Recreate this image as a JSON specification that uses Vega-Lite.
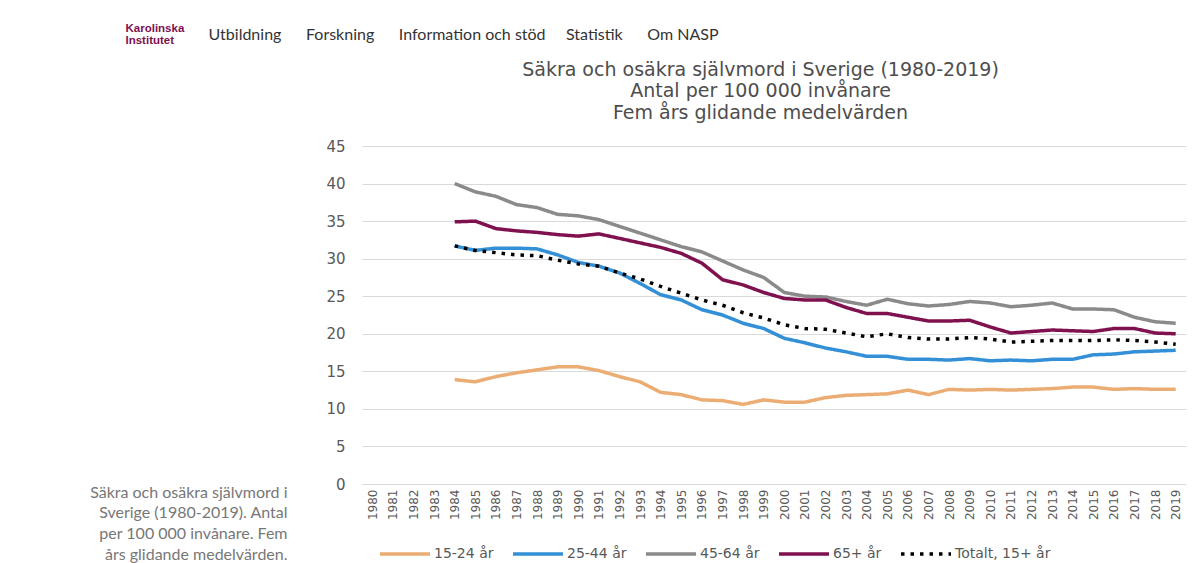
{
  "$schema": "https://vega.github.io/schema/vega-lite/v6.json",
  "width": 824,
  "height": 338,
  "autosize": {"type": "none"},
  "padding": {"left": 362, "top": 146, "right": 12, "bottom": 79},
  "background": "#ffffff",
  "config": {"view": {"stroke": null}},
  "datasets": {
    "rows": [
      {"year":1984,"group":"15-24 år","value":13.9},{"year":1985,"group":"15-24 år","value":13.6},{"year":1986,"group":"15-24 år","value":14.3},{"year":1987,"group":"15-24 år","value":14.8},{"year":1988,"group":"15-24 år","value":15.2},{"year":1989,"group":"15-24 år","value":15.6},{"year":1990,"group":"15-24 år","value":15.6},{"year":1991,"group":"15-24 år","value":15.1},{"year":1992,"group":"15-24 år","value":14.3},{"year":1993,"group":"15-24 år","value":13.6},{"year":1994,"group":"15-24 år","value":12.2},{"year":1995,"group":"15-24 år","value":11.9},{"year":1996,"group":"15-24 år","value":11.2},{"year":1997,"group":"15-24 år","value":11.1},{"year":1998,"group":"15-24 år","value":10.6},{"year":1999,"group":"15-24 år","value":11.2},{"year":2000,"group":"15-24 år","value":10.9},{"year":2001,"group":"15-24 år","value":10.9},{"year":2002,"group":"15-24 år","value":11.5},{"year":2003,"group":"15-24 år","value":11.8},{"year":2004,"group":"15-24 år","value":11.9},{"year":2005,"group":"15-24 år","value":12.0},{"year":2006,"group":"15-24 år","value":12.5},{"year":2007,"group":"15-24 år","value":11.9},{"year":2008,"group":"15-24 år","value":12.6},{"year":2009,"group":"15-24 år","value":12.5},{"year":2010,"group":"15-24 år","value":12.6},{"year":2011,"group":"15-24 år","value":12.5},{"year":2012,"group":"15-24 år","value":12.6},{"year":2013,"group":"15-24 år","value":12.7},{"year":2014,"group":"15-24 år","value":12.9},{"year":2015,"group":"15-24 år","value":12.9},{"year":2016,"group":"15-24 år","value":12.6},{"year":2017,"group":"15-24 år","value":12.7},{"year":2018,"group":"15-24 år","value":12.6},{"year":2019,"group":"15-24 år","value":12.6},
      {"year":1984,"group":"25-44 år","value":31.7},{"year":1985,"group":"25-44 år","value":31.1},{"year":1986,"group":"25-44 år","value":31.4},{"year":1987,"group":"25-44 år","value":31.4},{"year":1988,"group":"25-44 år","value":31.3},{"year":1989,"group":"25-44 år","value":30.5},{"year":1990,"group":"25-44 år","value":29.5},{"year":1991,"group":"25-44 år","value":29.0},{"year":1992,"group":"25-44 år","value":28.1},{"year":1993,"group":"25-44 år","value":26.7},{"year":1994,"group":"25-44 år","value":25.2},{"year":1995,"group":"25-44 år","value":24.5},{"year":1996,"group":"25-44 år","value":23.2},{"year":1997,"group":"25-44 år","value":22.5},{"year":1998,"group":"25-44 år","value":21.4},{"year":1999,"group":"25-44 år","value":20.7},{"year":2000,"group":"25-44 år","value":19.4},{"year":2001,"group":"25-44 år","value":18.8},{"year":2002,"group":"25-44 år","value":18.1},{"year":2003,"group":"25-44 år","value":17.6},{"year":2004,"group":"25-44 år","value":17.0},{"year":2005,"group":"25-44 år","value":17.0},{"year":2006,"group":"25-44 år","value":16.6},{"year":2007,"group":"25-44 år","value":16.6},{"year":2008,"group":"25-44 år","value":16.5},{"year":2009,"group":"25-44 år","value":16.7},{"year":2010,"group":"25-44 år","value":16.4},{"year":2011,"group":"25-44 år","value":16.5},{"year":2012,"group":"25-44 år","value":16.4},{"year":2013,"group":"25-44 år","value":16.6},{"year":2014,"group":"25-44 år","value":16.6},{"year":2015,"group":"25-44 år","value":17.2},{"year":2016,"group":"25-44 år","value":17.3},{"year":2017,"group":"25-44 år","value":17.6},{"year":2018,"group":"25-44 år","value":17.7},{"year":2019,"group":"25-44 år","value":17.8},
      {"year":1984,"group":"45-64 år","value":40.0},{"year":1985,"group":"45-64 år","value":38.9},{"year":1986,"group":"45-64 år","value":38.3},{"year":1987,"group":"45-64 år","value":37.2},{"year":1988,"group":"45-64 år","value":36.8},{"year":1989,"group":"45-64 år","value":35.9},{"year":1990,"group":"45-64 år","value":35.7},{"year":1991,"group":"45-64 år","value":35.2},{"year":1992,"group":"45-64 år","value":34.3},{"year":1993,"group":"45-64 år","value":33.4},{"year":1994,"group":"45-64 år","value":32.5},{"year":1995,"group":"45-64 år","value":31.6},{"year":1996,"group":"45-64 år","value":30.9},{"year":1997,"group":"45-64 år","value":29.7},{"year":1998,"group":"45-64 år","value":28.5},{"year":1999,"group":"45-64 år","value":27.5},{"year":2000,"group":"45-64 år","value":25.5},{"year":2001,"group":"45-64 år","value":25.0},{"year":2002,"group":"45-64 år","value":24.9},{"year":2003,"group":"45-64 år","value":24.3},{"year":2004,"group":"45-64 år","value":23.8},{"year":2005,"group":"45-64 år","value":24.6},{"year":2006,"group":"45-64 år","value":24.0},{"year":2007,"group":"45-64 år","value":23.7},{"year":2008,"group":"45-64 år","value":23.9},{"year":2009,"group":"45-64 år","value":24.3},{"year":2010,"group":"45-64 år","value":24.1},{"year":2011,"group":"45-64 år","value":23.6},{"year":2012,"group":"45-64 år","value":23.8},{"year":2013,"group":"45-64 år","value":24.1},{"year":2014,"group":"45-64 år","value":23.3},{"year":2015,"group":"45-64 år","value":23.3},{"year":2016,"group":"45-64 år","value":23.2},{"year":2017,"group":"45-64 år","value":22.2},{"year":2018,"group":"45-64 år","value":21.6},{"year":2019,"group":"45-64 år","value":21.4},
      {"year":1984,"group":"65+ år","value":34.9},{"year":1985,"group":"65+ år","value":35.0},{"year":1986,"group":"65+ år","value":34.0},{"year":1987,"group":"65+ år","value":33.7},{"year":1988,"group":"65+ år","value":33.5},{"year":1989,"group":"65+ år","value":33.2},{"year":1990,"group":"65+ år","value":33.0},{"year":1991,"group":"65+ år","value":33.3},{"year":1992,"group":"65+ år","value":32.7},{"year":1993,"group":"65+ år","value":32.1},{"year":1994,"group":"65+ år","value":31.5},{"year":1995,"group":"65+ år","value":30.7},{"year":1996,"group":"65+ år","value":29.4},{"year":1997,"group":"65+ år","value":27.2},{"year":1998,"group":"65+ år","value":26.5},{"year":1999,"group":"65+ år","value":25.5},{"year":2000,"group":"65+ år","value":24.7},{"year":2001,"group":"65+ år","value":24.5},{"year":2002,"group":"65+ år","value":24.5},{"year":2003,"group":"65+ år","value":23.5},{"year":2004,"group":"65+ år","value":22.7},{"year":2005,"group":"65+ år","value":22.7},{"year":2006,"group":"65+ år","value":22.2},{"year":2007,"group":"65+ år","value":21.7},{"year":2008,"group":"65+ år","value":21.7},{"year":2009,"group":"65+ år","value":21.8},{"year":2010,"group":"65+ år","value":20.9},{"year":2011,"group":"65+ år","value":20.1},{"year":2012,"group":"65+ år","value":20.3},{"year":2013,"group":"65+ år","value":20.5},{"year":2014,"group":"65+ år","value":20.4},{"year":2015,"group":"65+ år","value":20.3},{"year":2016,"group":"65+ år","value":20.7},{"year":2017,"group":"65+ år","value":20.7},{"year":2018,"group":"65+ år","value":20.1},{"year":2019,"group":"65+ år","value":20.0},
      {"year":1984,"group":"Totalt, 15+ år","value":31.7},{"year":1985,"group":"Totalt, 15+ år","value":31.1},{"year":1986,"group":"Totalt, 15+ år","value":30.8},{"year":1987,"group":"Totalt, 15+ år","value":30.5},{"year":1988,"group":"Totalt, 15+ år","value":30.4},{"year":1989,"group":"Totalt, 15+ år","value":29.8},{"year":1990,"group":"Totalt, 15+ år","value":29.3},{"year":1991,"group":"Totalt, 15+ år","value":29.0},{"year":1992,"group":"Totalt, 15+ år","value":28.1},{"year":1993,"group":"Totalt, 15+ år","value":27.3},{"year":1994,"group":"Totalt, 15+ år","value":26.3},{"year":1995,"group":"Totalt, 15+ år","value":25.4},{"year":1996,"group":"Totalt, 15+ år","value":24.5},{"year":1997,"group":"Totalt, 15+ år","value":23.8},{"year":1998,"group":"Totalt, 15+ år","value":22.8},{"year":1999,"group":"Totalt, 15+ år","value":22.1},{"year":2000,"group":"Totalt, 15+ år","value":21.2},{"year":2001,"group":"Totalt, 15+ år","value":20.7},{"year":2002,"group":"Totalt, 15+ år","value":20.6},{"year":2003,"group":"Totalt, 15+ år","value":20.1},{"year":2004,"group":"Totalt, 15+ år","value":19.6},{"year":2005,"group":"Totalt, 15+ år","value":20.0},{"year":2006,"group":"Totalt, 15+ år","value":19.5},{"year":2007,"group":"Totalt, 15+ år","value":19.3},{"year":2008,"group":"Totalt, 15+ år","value":19.3},{"year":2009,"group":"Totalt, 15+ år","value":19.5},{"year":2010,"group":"Totalt, 15+ år","value":19.3},{"year":2011,"group":"Totalt, 15+ år","value":18.9},{"year":2012,"group":"Totalt, 15+ år","value":19.0},{"year":2013,"group":"Totalt, 15+ år","value":19.1},{"year":2014,"group":"Totalt, 15+ år","value":19.1},{"year":2015,"group":"Totalt, 15+ år","value":19.1},{"year":2016,"group":"Totalt, 15+ år","value":19.2},{"year":2017,"group":"Totalt, 15+ år","value":19.1},{"year":2018,"group":"Totalt, 15+ år","value":18.9},{"year":2019,"group":"Totalt, 15+ år","value":18.6}
    ]
  },
  "data": {"name": "rows"},
  "layer": [
    {
      "mark": {"type": "line", "strokeWidth": 3.5},
      "encoding": {
        "x": {
          "field": "year", "type": "ordinal",
          "scale": {"domain": [1980,1981,1982,1983,1984,1985,1986,1987,1988,1989,1990,1991,1992,1993,1994,1995,1996,1997,1998,1999,2000,2001,2002,2003,2004,2005,2006,2007,2008,2009,2010,2011,2012,2013,2014,2015,2016,2017,2018,2019], "padding": 0.5},
          "axis": {
            "orient": "bottom", "labelAngle": -90, "labelPadding": 5, "ticks": false, "domain": false, "grid": false,
            "labelFont": "DejaVu Sans", "labelFontSize": 12, "labelColor": "#595959",
            "title": ["Säkra och osäkra självmord i", "Sverige (1980-2019). Antal", "per 100 000 invånare. Fem", "års glidande medelvärden."],
            "titleFont": "Lato", "titleFontSize": 16, "titleFontWeight": "normal", "titleColor": "#777777",
            "titleAngle": 0, "titleAlign": "right", "titleBaseline": "alphabetic", "titleLineHeight": 20.8,
            "titleX": -75, "titleY": 13, "titleLimit": 2000
          }
        },
        "y": {
          "field": "value", "type": "quantitative",
          "scale": {"domain": [0, 45], "nice": false},
          "axis": {
            "values": [0,5,10,15,20,25,30,35,40,45], "ticks": false, "domain": false,
            "grid": true, "gridColor": "#d9d9d9", "gridWidth": 1,
            "labelFont": "DejaVu Sans", "labelFontSize": 15, "labelColor": "#595959", "labelPadding": 17,
            "title": "Utbildning\u00a0\u00a0\u00a0\u00a0\u00a0\u00a0Forskning\u00a0\u00a0\u00a0\u00a0\u00a0\u00a0Information och stöd\u00a0\u00a0\u00a0\u00a0\u00a0Statistik\u00a0\u00a0\u00a0\u00a0\u00a0\u00a0Om NASP",
            "titleFont": "Lato", "titleFontSize": 16, "titleFontWeight": "normal", "titleColor": "#333333",
            "titleAngle": 0, "titleAlign": "left", "titleBaseline": "alphabetic",
            "titleX": -154, "titleY": -107, "titleLimit": 2000
          }
        },
        "color": {
          "field": "group", "type": "nominal",
          "scale": {
            "domain": ["15-24 år", "25-44 år", "45-64 år", "65+ år", "Totalt, 15+ år"],
            "range": ["#ebad73", "#3390d6", "#8a8a8a", "#80114f", "#000000"]
          },
          "legend": {
            "title": null, "orient": "none", "direction": "horizontal", "legendX": 16, "legendY": 381,
            "symbolType": "stroke", "symbolSize": 2500, "symbolStrokeWidth": 3.5,
            "labelFont": "DejaVu Sans", "labelFontSize": 14, "labelColor": "#595959",
            "labelOffset": 2, "columnPadding": 12, "padding": 0
          }
        },
        "strokeDash": {
          "field": "group", "type": "nominal",
          "scale": {
            "domain": ["15-24 år", "25-44 år", "45-64 år", "65+ år", "Totalt, 15+ år"],
            "range": [[1, 0], [1, 0], [1, 0], [1, 0], [3.5, 6]]
          },
          "legend": {
            "title": null, "orient": "none", "direction": "horizontal", "legendX": 16, "legendY": 381,
            "symbolType": "stroke", "symbolSize": 2500, "symbolStrokeWidth": 3.5,
            "labelFont": "DejaVu Sans", "labelFontSize": 14, "labelColor": "#595959",
            "labelOffset": 2, "columnPadding": 12, "padding": 0
          }
        }
      }
    },
    {
      "mark": {"type": "point", "opacity": 0},
      "encoding": {
        "x": {
          "field": "year", "type": "ordinal",
          "axis": {
            "orient": "top", "labels": false, "ticks": false, "domain": false, "grid": false,
            "title": ["Säkra och osäkra självmord i Sverige (1980-2019)", "Antal per 100 000 invånare", "Fem års glidande medelvärden"],
            "titleFont": "DejaVu Sans", "titleFontSize": 19, "titleFontWeight": "normal", "titleColor": "#4d4d4d",
            "titleAngle": 0, "titleAlign": "center", "titleBaseline": "alphabetic", "titleLineHeight": 21.5,
            "titleX": 398, "titleY": -71, "titleLimit": 2000
          }
        },
        "y": {
          "field": "value", "type": "quantitative",
          "axis": {
            "orient": "right", "labels": false, "ticks": false, "domain": false, "grid": false,
            "title": ["Karolinska", "Institutet"],
            "titleFont": "Liberation Sans", "titleFontSize": 11.5, "titleFontWeight": "bold", "titleColor": "#7d1150",
            "titleAngle": 0, "titleAlign": "left", "titleBaseline": "alphabetic", "titleLineHeight": 12,
            "titleX": -1061, "titleY": -115, "titleLimit": 2000
          }
        }
      }
    }
  ],
  "resolve": {"axis": {"x": "independent", "y": "independent"}}
}
